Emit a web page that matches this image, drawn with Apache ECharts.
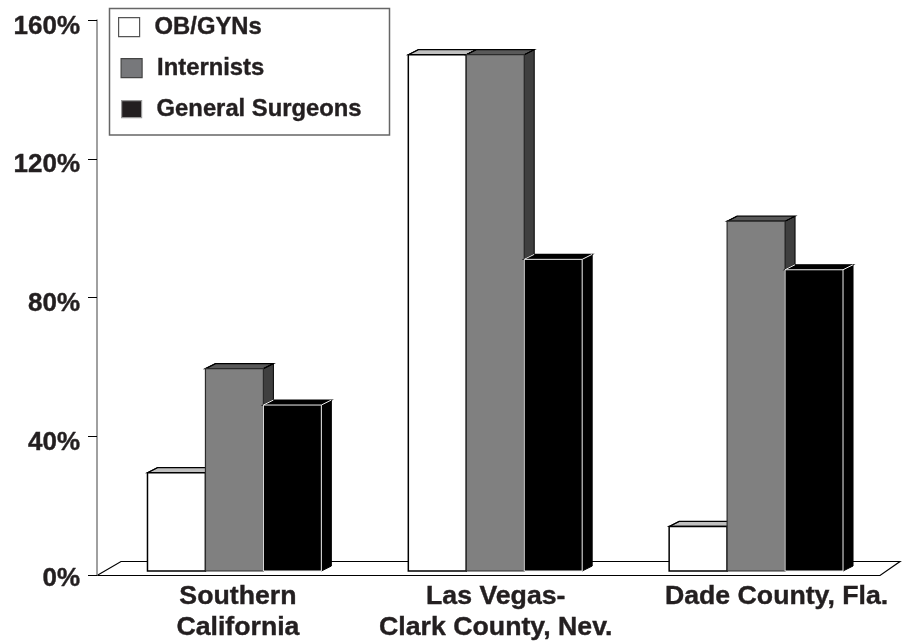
<!DOCTYPE html>
<html>
<head>
<meta charset="utf-8">
<style>html,body{margin:0;padding:0;background:#fff}#c{width:903px;height:642px}</style>
<script src="https://cdn.jsdelivr.net/npm/echarts@6/dist/echarts.min.js"></script>
</head>
<body>
<div id="c"></div>
<script>
var categories = ['Southern\nCalifornia', 'Las Vegas-\nClark County, Nev.', 'Dade County, Fla.'];
var obgyn = [29.5, 150, 14];
var internists = [59.5, 150, 102];
var surgeons = [49, 91, 88];
var seriesNames = ['OB/GYNs', 'Internists', 'General Surgeons'];
var yTicks = [0, 40, 80, 120, 160];

var FONT = '"Liberation Sans", Arial, sans-serif';
var INK = '#231f20';
var BOLD = {textBorderColor: INK, textBorderWidth: 0.4};
var looks = [
  {front: '#ffffff', top: '#c0c0c0', side: '#808080', edge: '#000000', edgeW: 1.5, diag: '#000', swatch: '#ffffff', swatchEdge: '#555555'},
  {front: '#808080', top: '#595959', side: '#3f3f3f', edge: '#2b2b2b', edgeW: 1.2, diag: '#000', swatch: '#77787b', swatchEdge: '#444444'},
  {front: '#000000', top: '#000000', side: '#000000', edge: '#f0f0f0', edgeW: 1, diag: '#f0f0f0', swatch: '#231f20', swatchEdge: '#999999'}
];
var DX = 10, DY = 5, INSET = 4;

function barSeries(idx, values) {
  var look = looks[idx];
  return {
    type: 'custom',
    name: seriesNames[idx],
    itemStyle: {color: look.swatch},
    encode: {x: 0, y: 1},
    data: values.map(function (v, i) { return [i, v]; }),
    renderItem: function (params, api) {
      var top = api.coord([api.value(0), api.value(1)]);
      var base = api.coord([api.value(0), 0]);
      var w = api.size([1, 0])[0] * 0.2222;
      var x0 = top[0] + (idx - 1.5) * w;
      var x1 = x0 + w;
      var yT = top[1], yB = base[1] - INSET;
      return {
        type: 'group',
        children: [
          {type: 'polygon', shape: {points: [[x1, yT], [x1 + DX, yT - DY], [x1 + DX, yB - DY], [x1, yB]]},
            style: {fill: look.side, stroke: '#000', lineWidth: 1}},
          {type: 'polygon', shape: {points: [[x0, yT], [x0 + DX, yT - DY], [x1 + DX, yT - DY], [x1, yT]]},
            style: {fill: look.top, stroke: '#000', lineWidth: 1.2}},
          {type: 'line', shape: {x1: x0, y1: yT, x2: x0 + DX, y2: yT - DY},
            style: {stroke: look.diag, lineWidth: 1}},
          {type: 'line', shape: {x1: x1, y1: yT, x2: x1 + DX, y2: yT - DY},
            style: {stroke: look.diag, lineWidth: 1}},
          {type: 'rect', shape: {x: x0, y: yT, width: w, height: yB - yT},
            style: {fill: look.front, stroke: look.edge, lineWidth: look.edgeW}}
        ]
      };
    }
  };
}

function legendFor(idx, left, top, sw, sh, pad) {
  var look = looks[idx];
  return {
    left: left, top: top, orient: 'vertical', padding: 0,
    itemWidth: sw, itemHeight: sh, selectedMode: false,
    textStyle: Object.assign({color: INK, fontFamily: FONT, fontWeight: 'bold', fontSize: 23.8, padding: pad}, BOLD),
    data: [{name: seriesNames[idx], icon: 'rect',
      itemStyle: {color: look.swatch, borderColor: look.swatchEdge, borderWidth: 1.2}}]
  };
}

function catStyle(leftPad) {
  return Object.assign({fontFamily: FONT, fontWeight: 'bold', fontSize: 26.7, lineHeight: 31, color: INK, padding: [0, 0, 0, leftPad]}, BOLD);
}
function tickStyle(topPad) {
  return Object.assign({fontFamily: FONT, fontWeight: 'bold', fontSize: 26, color: INK, padding: [topPad, 0, 0, 0]}, BOLD);
}

var chart = echarts.init(document.getElementById('c'), null, {renderer: 'canvas'});
chart.setOption({
  animation: false,
  backgroundColor: '#ffffff',
  grid: {left: 104, right: 16.5, top: 20, bottom: 67, outerBoundsMode: 'none'},
  legend: [
    legendFor(0, 118, 15, 21, 19, [0, 0, 3, 10]),
    legendFor(1, 120.5, 56, 21, 19, [0, 0, 7, 10]),
    legendFor(2, 121, 97, 20, 17, [0, 0, 7, 10])
  ],
  graphic: [
    {type: 'rect', z: 0, shape: {x: 109.5, y: 8.5, width: 280, height: 126.5},
      style: {fill: '#fff', stroke: '#666', lineWidth: 1.5}},
    {type: 'polyline', z: 0, shape: {points: [[97, 575.5], [121, 561.5], [900, 561.5], [880, 575.5], [88, 575.5]]},
      style: {fill: 'none', stroke: '#000', lineWidth: 1.2}}
  ],
  xAxis: {
    type: 'category',
    data: categories,
    axisLine: {show: false},
    axisTick: {show: false},
    axisLabel: {
      interval: 0, margin: 6, color: INK, fontFamily: FONT, fontWeight: 'bold', fontSize: 26.7, lineHeight: 31,
      overflow: 'none', width: 400,
      formatter: function (v, i) {
        return v.split('\n').map(function (s) { return '{c' + i + '|' + s + '}'; }).join('\n');
      },
      rich: {c0: catStyle(7), c1: catStyle(1), c2: catStyle(41)}
    }
  },
  yAxis: {
    type: 'value', min: 0, max: 160, interval: 40, offset: 7,
    splitLine: {show: false},
    axisLine: {show: true, lineStyle: {color: '#808080', width: 1.5}},
    axisTick: {show: true, length: 9, lineStyle: {color: '#000', width: 1}},
    axisLabel: {
      margin: 17, color: INK, fontFamily: FONT, fontWeight: 'bold', fontSize: 26,
      customValues: yTicks,
      formatter: function (v) {
        return v === 0 ? '{z|' + v + '%}' : '{t|' + v + '%}';
      },
      rich: {t: tickStyle(13), z: tickStyle(8)}
    }
  },
  series: [barSeries(0, obgyn), barSeries(1, internists), barSeries(2, surgeons)]
});
</script>
</body>
</html>
